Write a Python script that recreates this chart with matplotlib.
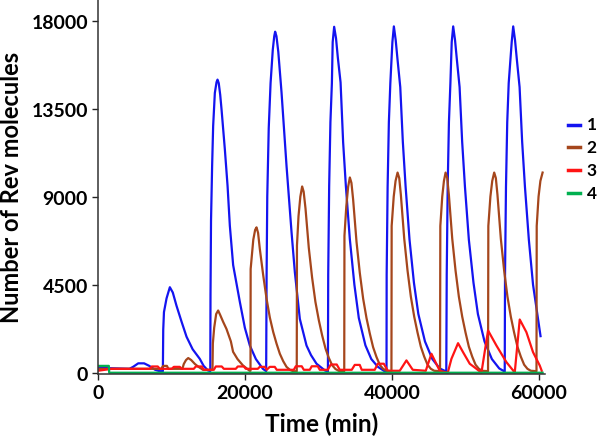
import numpy as np
import matplotlib
matplotlib.use('Agg')
import matplotlib.pyplot as plt

# series 1 (blue)
t1 = [0, 4300, 4800, 5500, 6300, 7000, 7800, 8400, 8850, 8900, 9000, 9350, 9800, 10200, 10700, 11400,
      12070, 12900, 13870, 14400, 14970, 15300,
      15330, 15400, 15550, 15690, 15920, 16150, 16285, 16450, 16650, 16830, 17280, 17650, 17960, 18410, 19320,
      20000, 20680, 21500, 22450, 22900,
      22960, 23050, 23250, 23500, 23800, 24000, 24122, 24300, 24550, 24990, 25670, 26350, 26800, 27480, 28390,
      29000, 29750, 30880, 31300,
      31340, 31470, 31640, 31840, 31950, 32148, 32400, 32650, 33020, 33370, 33740, 34280, 34900, 35500, 36400,
      37200, 38100, 39000, 39270,
      39290, 39420, 39590, 39790, 40070, 40271, 40520, 40770, 41140, 41490, 41870, 42400, 43000, 43600, 44500,
      45500, 46500, 47400,
      47460, 47590, 47760, 47960, 48140, 48339, 48590, 48840, 49210, 49560, 49940, 50470, 51100, 51700, 52600,
      53600, 54600, 55350,
      55390, 55520, 55690, 55890, 56300, 56502, 56750, 57000, 57370, 57720, 58100, 58630, 59200, 59700, 60220]
v1 = [250, 200, 300, 480, 480, 350, 150, 80, 80, 2200, 3100, 3800, 4370, 4100, 3430, 2600,
      1840, 1200, 710, 350, 120, 80,
      4000, 7770, 10570, 12610, 14300, 14850, 14980, 14800, 14200, 13460, 11420, 9550, 7510, 5500, 3620,
      2300, 1390, 700, 200, 80,
      5000, 9000, 12500, 14800, 16500, 17200, 17430, 17200, 16400, 14330, 10570, 7190, 5150, 2750, 1390,
      900, 460, 120, 60,
      5000, 9550, 12800, 14800, 16900, 17680, 17100, 16100, 14840, 11770, 9550, 6830, 4500, 2800, 1400,
      700, 300, 80, 50,
      5000, 9500, 12800, 14800, 16900, 17700, 17000, 16000, 14600, 11800, 9500, 6800, 4600, 3000, 1600,
      700, 220, 60,
      5000, 9500, 12800, 14800, 16900, 17700, 17000, 16000, 14600, 11800, 9500, 6800, 4600, 3000, 1600,
      700, 220, 60,
      5000, 9500, 12800, 14800, 16900, 17700, 17000, 16000, 14600, 11800, 9500, 6800, 4500, 3200, 1870]

# series 2 (brown)
t2 = [0, 8600, 8900, 9400, 9600, 11500, 11700, 12000, 12300, 12700, 13200, 13700, 14300, 15600,
      15650, 15830, 16100, 16370, 16650, 17050, 17500, 18100, 18400, 19000, 19750, 20650, 20770,
      20790, 21150, 21400, 21590, 21800, 22040, 22500, 22950, 23400, 23860, 24310, 24760, 25220, 25670, 26120,
      26580, 27060,
      27090, 27300, 27550, 27795, 28000, 28250, 28700, 29150, 29600, 30070, 30520, 30970, 31420, 31880, 32330,
      32780, 33520,
      33550, 33800, 34050, 34284, 34500, 34730, 35190, 35640, 36090, 36550, 37000, 37450, 37910, 38360, 38810,
      39270, 39940,
      39970, 40250, 40500, 40774, 41000, 41220, 41680, 42130, 42580, 43040, 43490, 43940, 44400, 44850, 45300,
      45760, 46550,
      46590, 46850, 47080, 47305, 47530, 47750, 48210, 48660, 49110, 49570, 50020, 50470, 50930, 51380, 51830,
      52290, 53080,
      53120, 53400, 53650, 53916, 54140, 54360, 54820, 55270, 55720, 56180, 56630, 57080, 57540, 57990, 58440,
      58900, 59670,
      59700, 59950, 60200, 60500]
v2 = [200, 200, 350, 350, 200, 200, 450, 650, 750, 650, 450, 300, 150, 150,
      1500, 2300, 3000, 3180, 2950, 2600, 2240, 1600, 1070, 700, 370, 100, 100,
      5300, 6800, 7300, 7430, 7150, 6320, 4980, 3790, 2820, 2080, 1490, 970, 590, 300, 150,
      75, 75,
      6500, 8000, 9000, 9520, 9250, 8400, 6380, 4860, 3620, 2670, 1900, 1240, 760, 380, 190,
      95, 80,
      7000, 8500, 9500, 9980, 9700, 8850, 6690, 5090, 3790, 2790, 2000, 1300, 800, 400, 200,
      100, 80,
      7500, 9000, 9800, 10230, 9950, 9100, 6850, 5220, 3890, 2860, 2050, 1330, 820, 410, 200,
      100, 80,
      7500, 9000, 9800, 10230, 9950, 9100, 6850, 5220, 3890, 2860, 2050, 1330, 820, 410, 200,
      100, 80,
      7500, 9000, 9800, 10230, 9950, 9100, 6850, 5220, 3890, 2860, 2050, 1330, 820, 410, 200,
      100, 80,
      7500, 9000, 9800, 10230]

# series 3 (red)
t3 = [0, 1900, 7070, 7340, 8160, 8430, 10060, 10340, 11150, 11420, 13060, 13330, 14140, 14420, 15780, 16050,
      16860, 17140, 18770, 19040, 19860, 20130, 21760, 22030, 22710, 22980, 23390, 24070, 24340, 26660, 26930,
      27740, 28020, 28830, 29100, 29920, 30190, 31280, 31690, 32500, 32910, 34540, 34950, 35630, 35900, 37670,
      38080, 38900, 39440, 41070, 41980, 42840, 44610, 45380, 46510, 47600, 48100, 49000, 49680, 50590, 51500,
      52180, 53080, 54220, 55580, 56480, 56710, 57390, 58300, 59200, 60110, 60380]
v3 = [100, 200, 200, 320, 320, 200, 200, 300, 300, 200, 200, 320, 320, 150, 150, 320,
      320, 200, 200, 320, 320, 200, 200, 300, 300, 150, 300, 300, 150, 150, 330,
      330, 150, 150, 330, 330, 150, 150, 420, 420, 150, 150, 400, 400, 150, 150,
      460, 460, 100, 100, 630, 150, 100, 970, 100, 0, 710, 1510, 1050, 460, 200,
      0, 2160, 1390, 540, 120, 0, 2720, 2070, 1050, 370, 100]

# series 4 (green)
t4 = [0, 1500, 1550, 60500]
v4 = [350, 350, 0, 0]

labels = ['1', '2', '3', '4']
colors = ['#1414F0', '#A5461C', '#FF1414', '#00B050']

plt.rcParams['font.family'] = ['Lato', 'DejaVu Sans']
fig = plt.figure(figsize=(6, 4.39), dpi=100)
ax = fig.add_axes([0.163, 0.146, 0.745, 0.854])

for t, v, lab, c in zip([t1, t2, t3, t4], [v1, v2, v3, v4], labels, colors):
    ax.plot(t, v, color=c, lw=1.6, label=lab)

ax.set_xlim(0, 60800)
ax.set_ylim(-60, 19100)
ax.set_xticks([0, 20000, 40000, 60000])
ax.set_yticks([0, 4500, 9000, 13500, 18000])
ax.tick_params(direction='out', length=4, width=1, labelsize=14, colors='#222222', pad=3)
for lbl in ax.get_xticklabels() + ax.get_yticklabels():
    lbl.set_fontweight('bold')
    lbl.set_color('black')
ax.spines['top'].set_visible(False)
ax.spines['right'].set_visible(False)
for s in ['left', 'bottom']:
    ax.spines[s].set_color('#333333')
    ax.spines[s].set_linewidth(1.1)

ax.set_xlabel('Time (min)', fontsize=17.5, fontweight='bold', labelpad=8)
ax.set_ylabel('Number of Rev molecules', fontsize=17, fontweight='bold', labelpad=6)

leg = fig.legend(loc='center left', bbox_to_anchor=(0.937, 0.636), frameon=False,
                 handlelength=0.85, handletextpad=0.5, labelspacing=0.5, borderaxespad=0,
                 borderpad=0.4)
for txt in leg.get_texts():
    txt.set_fontweight('bold')
    txt.set_fontsize(12.5)
for ln in leg.get_lines():
    ln.set_linewidth(2.5)

fig.savefig('out.png', dpi=100)
